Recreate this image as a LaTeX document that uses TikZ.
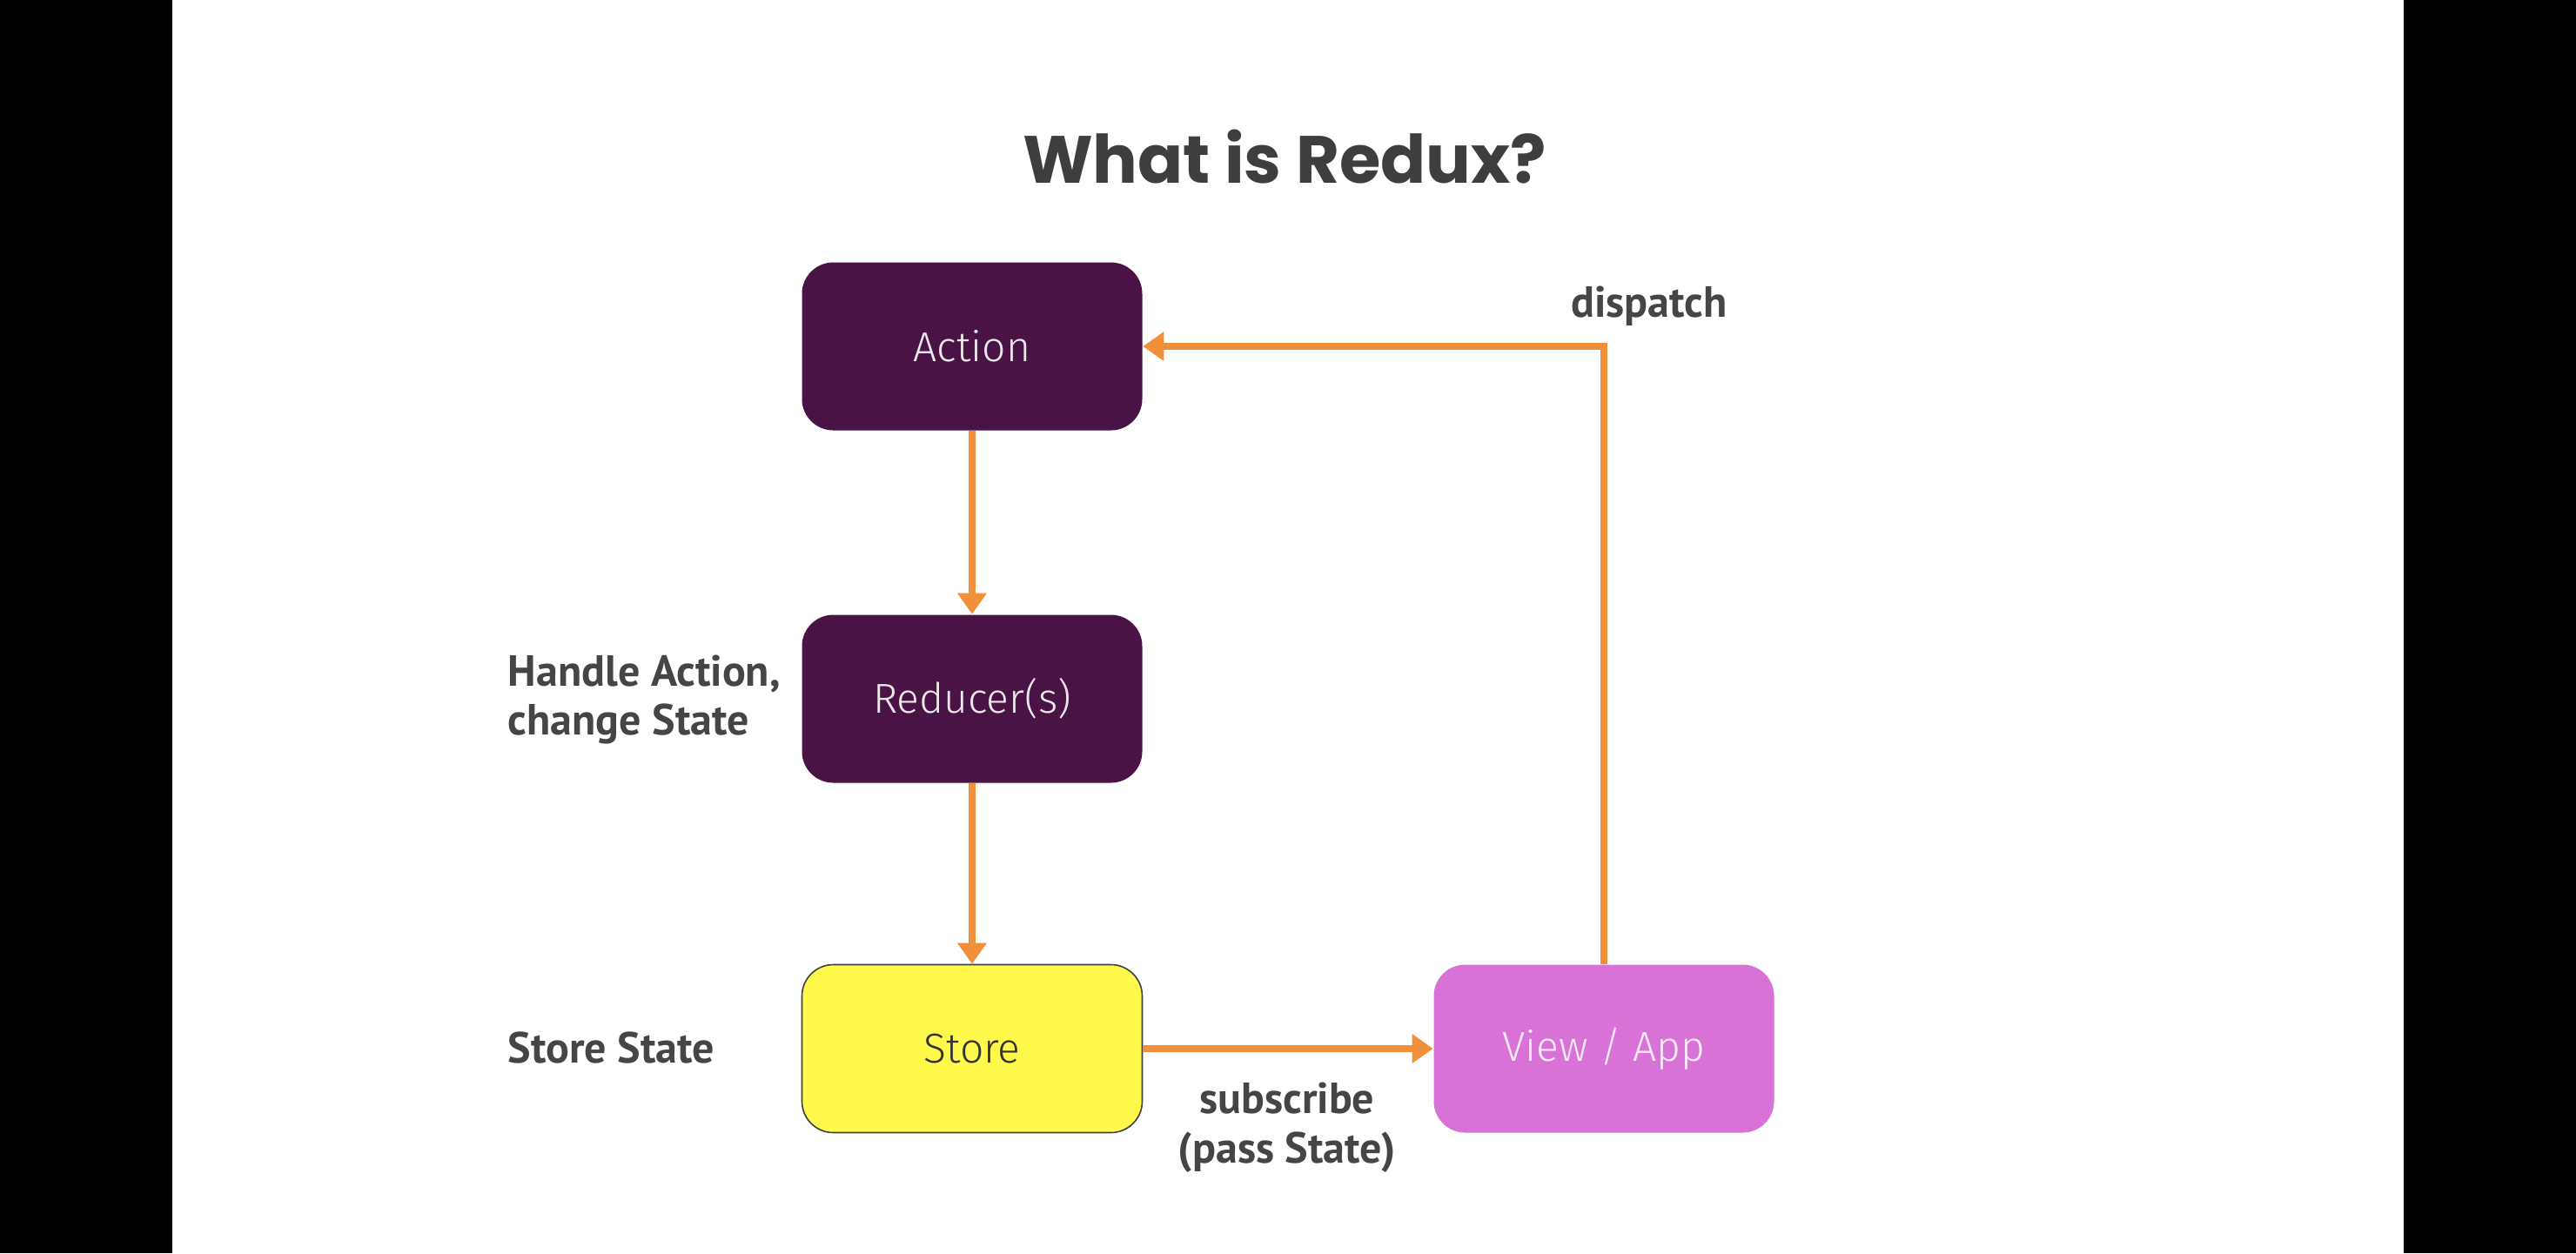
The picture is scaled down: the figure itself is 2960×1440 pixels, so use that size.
\documentclass[tikz,border=0pt]{standalone}
\usepackage{fontspec}
\usetikzlibrary{arrows.meta}
\newfontfamily\titlefont{Poppins}
\newfontfamily\lblfont{PT Sans}
\newfontfamily\boxfont{Fira Sans Light}
\definecolor{rpurple}{HTML}{4A1345}
\definecolor{ryellow}{HTML}{FFF94C}
\definecolor{rpink}{HTML}{D872D6}
\definecolor{rorange}{HTML}{F0903A}
\definecolor{rgray}{HTML}{454545}
\definecolor{rtitle}{HTML}{3E3E3E}
\tikzset{
  box/.style={rounded corners=9pt, minimum width=97.75pt, minimum height=48.25pt,
    inner sep=0pt, font=\boxfont\fontsize{12}{14}\selectfont},
  purplebox/.style={box, fill=rpurple, text=white!90!rpurple},
  storebox/.style={box, fill=ryellow, draw=black!75, line width=0.4pt, text=black!80},
  viewbox/.style={box, fill=rpink, text=white!85!rpink},
  lbl/.style={font=\lblfont\bfseries\fontsize{12.5}{14.2}\selectfont, text=rgray, inner sep=0pt},
  arr/.style={draw=rorange, line width=2pt, -{Triangle[length=6pt,width=8pt]}}
}
\begin{document}
\begin{tikzpicture}[x=0.25pt,y=-0.25pt]
\useasboundingbox (0,0) rectangle (2960,1440);
\fill[black] (0,0) rectangle (198,1440);
\fill[black] (2762,0) rectangle (2960,1440);
\fill[white] (198,0) rectangle (2762,1440);

\node[font=\titlefont\bfseries\fontsize{19.2}{23}\selectfont, text=rtitle, inner sep=0pt] (title) at (1476,180) {What is Redux?};

\node[purplebox] (action) at (1117,398) {Action};
\node[purplebox] (reducer) at (1117,803) {Reducer(s)};
\node[storebox] (store) at (1117,1205) {Store};
\node[viewbox] (view) at (1843,1205) {View / App};

\draw[arr] (action) -- (reducer);
\draw[arr] (reducer) -- (store);
\draw[arr] (store) -- (view);
\draw[arr] (view.north) |- (action.east);

\node[lbl] (dispatch) at (1895,352) {dispatch};
\node[lbl, anchor=west, align=left] (handle) at (583,804) {Handle Action,\\change State};
\node[lbl, anchor=west] (storestate) at (583,1204) {Store State};
\node[lbl, align=center] (subscribe) at (1479,1296) {subscribe\\(pass State)};
\end{tikzpicture}
\end{document}
